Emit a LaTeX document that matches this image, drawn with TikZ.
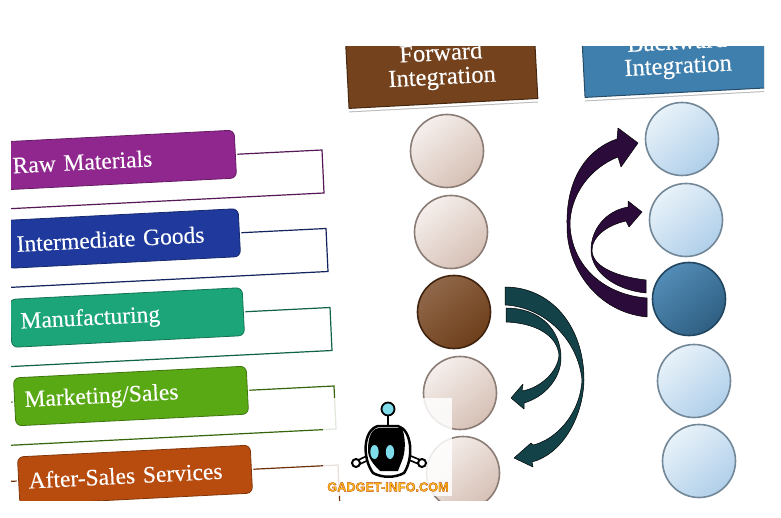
\documentclass[tikz,border=0pt]{standalone}
\usepackage{fontspec}
\setmainfont[FakeBold=0.25,WordSpace=0.6]{Liberation Serif}
\newfontfamily\wmfont[FakeBold=2.5]{Liberation Sans Bold}
\usetikzlibrary{shadows}
\definecolor{rawcol}{HTML}{90278F}
\definecolor{intercol}{HTML}{1F3A9C}
\definecolor{manucol}{HTML}{1BA578}
\definecolor{salescol}{HTML}{59A914}
\definecolor{aftercol}{HTML}{B84C0E}
\definecolor{fwdcol}{HTML}{74421C}
\definecolor{backcol}{HTML}{3F7FAE}
\definecolor{purplecol}{HTML}{2B0B3A}
\definecolor{tealcol}{HTML}{134349}
\definecolor{goldcol}{HTML}{FFC21A}
\definecolor{cyancol}{HTML}{7FDCEB}
\definecolor{fwdlight}{HTML}{F5EFEC}
\definecolor{fwddark}{HTML}{D6C0B5}
\definecolor{backlight}{HTML}{E8F2F9}
\definecolor{backdark}{HTML}{B0CFEA}

\begin{document}
\begin{tikzpicture}[
x=1pt,y=-1pt,
bar/.style={
  preaction={draw=white,line width=4pt},
  fill=#1,
  draw=#1!70!black,
  line width=.8pt,
  rounded corners=6pt,
  rotate=2.9,
  minimum width=233pt,
  minimum height=48pt,
  text width=213pt,
  inner xsep=10pt,
  inner ysep=0pt,
  align=left,
  text=white,
  font=\fontsize{23.5}{24}\selectfont
  },
outline/.style={
  draw=#1!60!black,
  line width=1.2pt
  },
header/.style={
  drop shadow={opacity=.55,shadow xshift=0pt,shadow yshift=-4pt},
  preaction={draw=white,line width=6pt},
  fill=#1,
  draw=#1!60!black,
  line width=1pt,
  rotate=3,
  minimum width=189pt,
  minimum height=74pt,
  inner sep=0pt,
  align=center,
  text=white,
  font=\fontsize{24.5}{24}\selectfont
  },
ball/.style={
  circle,
  draw=#1,
  line width=1.6pt,
  minimum size=73pt,
  inner sep=0pt
  },
fwdball/.style={
  ball=black!35!fwddark,
  top color=fwdlight,
  bottom color=fwddark,
  shading angle=40
  },
backball/.style={
  ball=black!35!backdark,
  top color=backlight,
  bottom color=backdark,
  shading angle=40
  },
purplearrow/.style={
  fill=purplecol,
  draw=black,
  line width=.5pt,
  line join=round
  },
tealarrow/.style={
  fill=tealcol,
  draw=black,
  line width=.5pt,
  line join=round
  }
]
\useasboundingbox (0,0) rectangle (781,518);
\fill[white] (0,0) rectangle (781,518);

\begin{scope}
\clip (11,47) rectangle (764,500);

\foreach \nm/\cx/\cy/\col/\txt in {raw/119/160/rawcol/Raw Materials,
  inter/123/238.5/intercol/Intermediate Goods,
  manu/127/317.5/manucol/Manufacturing,
  sales/131/396/salescol/{Marketing/Sales},
  after/135/475/aftercol/After-Sales Services}
{
  \coordinate (\nm-tr) at (\cx+116,\cy-30);
  \draw[outline=\col] ([shift={(-253,37)}]\nm-tr) -- ([shift={(87,20)}]\nm-tr)
    -- ([shift={(89,63)}]\nm-tr) -- ([shift={(-251,80)}]\nm-tr);
  \node[bar=\col] (\nm) at (\cx,\cy) {\txt};
}

\node[header=fwdcol] (forward) at (441.5,66.5) {Forward\\Integration};
\node[header=backcol] (backward) at (677.5,55.5) {Backward\\Integration};

\foreach \nm/\cx/\cy in {f1/447/151,f2/451/232,f4/460/393,f5/463/473}
  \node[fwdball] (\nm) at (\cx,\cy) {};
\node[ball=fwdcol!55!black,top color=fwdcol!80!white,bottom color=fwdcol!95!black,shading angle=40] (f3) at (454,312) {};

\foreach \nm/\cx/\cy in {b1/682/139,b2/686/220,b4/694/381,b5/699/461}
  \node[backball] (\nm) at (\cx,\cy) {};
\node[ball=backcol!55!black,top color=backcol!90!white,bottom color=backcol!75!black,shading angle=40] (b3) at (689,299) {};

\draw[purplearrow] (638,143) -- (618,128) -- (617,139) .. controls (590,148) and (566,175) .. (567,225)
  .. controls (566,265) and (595,312) .. (647,317) -- (647,298) .. controls (606,295) and (572,268) .. (570,225)
  .. controls (570,195) and (590,168) .. (618,157) -- (621,167) -- cycle;
\draw[purplearrow] (642,212) -- (628,201) -- (628,207) .. controls (605,211) and (591,230) .. (591,250)
  .. controls (591,272) and (615,290) .. (646,293) -- (646,280) .. controls (620,277) and (592,268) .. (592,250)
  .. controls (592,236) and (608,225) .. (626,221) -- (629,227) -- cycle;
\draw[tealarrow] (514,458) -- (531,443) -- (533,445) .. controls (555,440) and (580,415) .. (582,380)
  .. controls (578,340) and (545,307) .. (505,305) -- (505,287) .. controls (550,287) and (584,325) .. (584,380)
  .. controls (583,420) and (560,455) .. (532,462) -- (533,467) -- cycle;
\draw[tealarrow] (511,398) -- (523,384) -- (522,391) .. controls (540,388) and (558,372) .. (559,355)
  .. controls (557,335) and (535,323) .. (506,322) -- (506,308) .. controls (540,308) and (561,330) .. (561,358)
  .. controls (561,378) and (545,397) .. (524,403) -- (524,409) -- cycle;
\end{scope}

\fill[white,opacity=.85] (323,398) rectangle (452,496);

\draw[line width=2pt] (388,416) -- (388,427);
\draw[fill=cyancol,line width=1.8pt] (388,409) circle [radius=6.5];
\draw[line width=6pt] (357,463) -- (372,456) (422,463) -- (405,456);
\draw[white,line width=2.5pt] (357,463) -- (372,456) (422,463) -- (405,456);
\draw[fill=white,line width=2pt] (356,463) circle [radius=4] (422,463) circle [radius=4];
\draw[fill=white,line width=2.5pt] (373,473) .. controls (362,458) and (363,430) .. (378,426) -- (398,426) .. controls (412,430) and (414,458) .. (404,473) .. controls (395,478) and (382,478) .. (373,473) -- cycle;
\fill[black] (368,450) .. controls (368,436) and (372,428) .. (380,428) -- (402,428) .. controls (405,436) and (406,448) .. (403,458) -- (398,471) -- (380,471) .. controls (373,464) and (368,458) .. (368,450) -- cycle;
\fill[cyancol] (374.5,452) ellipse [x radius=4.2,y radius=7];
\fill[cyancol] (390,452) ellipse [x radius=4.2,y radius=7];
\node[inner sep=0pt,font=\wmfont\fontsize{12.7}{13}\selectfont] (wmtext) at (388,487) {\textcolor{goldcol}{\special{pdf:code 0.75 0.25 0 RG}GADGET-INFO.COM}};
\end{tikzpicture}
\end{document}
